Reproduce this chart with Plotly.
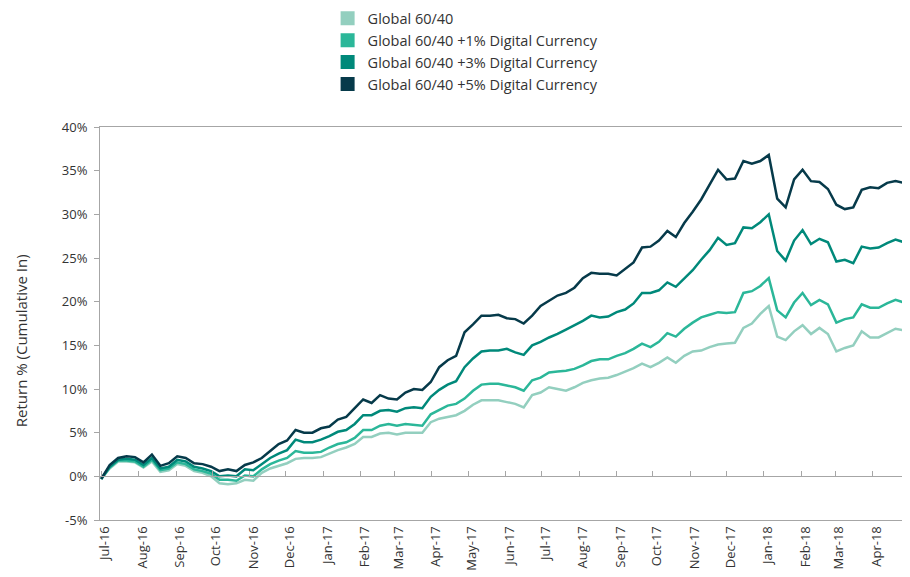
import pandas as pd
import plotly.graph_objects as go

# Weekly observations (Fridays) from Jul-16, plus final Apr-30-2018 point
dates = list(pd.date_range("2016-07-01", periods=96, freq="7D")) + [pd.Timestamp("2018-04-30")]

series_names = [
    "Global 60/40",
    "Global 60/40 +1% Digital Currency",
    "Global 60/40 +3% Digital Currency",
    "Global 60/40 +5% Digital Currency",
]
series_colors = ["#93CFBF", "#2BB799", "#00897A", "#063A4A"]

global_6040 = [
    -0.3, 0.9, 1.7, 1.7, 1.6, 1.0, 1.7, 0.5, 0.7, 1.4, 1.2, 0.6, 0.4, 0.0, -0.8, -0.9,
    -0.8, -0.4, -0.5, 0.4, 0.9, 1.2, 1.5, 2.0, 2.1, 2.1, 2.2, 2.6, 3.0, 3.3, 3.7, 4.5,
    4.5, 4.9, 5.0, 4.8, 5.0, 5.0, 5.0, 6.2, 6.6, 6.8, 7.0, 7.5, 8.2, 8.7, 8.7, 8.7,
    8.5, 8.3, 7.9, 9.3, 9.6, 10.2, 10.0, 9.8, 10.2, 10.7, 11.0, 11.2, 11.3, 11.6, 12.0, 12.4,
    12.9, 12.5, 13.0, 13.6, 13.0, 13.8, 14.3, 14.4, 14.8, 15.1, 15.2, 15.3, 17.0, 17.5, 18.6, 19.5,
    16.0, 15.6, 16.6, 17.3, 16.3, 17.0, 16.3, 14.3, 14.7, 15.0, 16.6, 15.9, 15.9, 16.4, 16.9, 16.7,
    16.8,
]
plus_1pct = [
    -0.3, 1.0, 1.8, 1.8, 1.7, 1.1, 1.9, 0.7, 0.9, 1.6, 1.4, 0.8, 0.6, 0.3, -0.4, -0.4,
    -0.5, 0.1, 0.0, 0.8, 1.4, 1.8, 2.1, 2.9, 2.7, 2.7, 2.8, 3.3, 3.7, 3.9, 4.4, 5.3,
    5.3, 5.8, 6.0, 5.8, 6.0, 5.9, 5.8, 7.1, 7.6, 8.1, 8.3, 8.9, 9.8, 10.5, 10.6, 10.6,
    10.4, 10.2, 9.8, 11.0, 11.3, 11.9, 12.0, 12.1, 12.3, 12.7, 13.2, 13.4, 13.4, 13.8, 14.1, 14.6,
    15.2, 14.8, 15.4, 16.4, 16.0, 16.9, 17.6, 18.2, 18.5, 18.8, 18.7, 18.8, 21.0, 21.2, 21.8, 22.7,
    19.0, 18.2, 19.9, 21.0, 19.6, 20.2, 19.7, 17.6, 18.0, 18.2, 19.7, 19.3, 19.3, 19.8, 20.2, 19.9,
    19.9,
]
plus_3pct = [
    -0.3, 1.1, 1.9, 2.0, 1.9, 1.3, 2.1, 0.9, 1.1, 1.9, 1.7, 1.1, 0.9, 0.6, 0.0, 0.1,
    0.0, 0.8, 0.7, 1.4, 2.1, 2.6, 3.0, 4.2, 3.9, 3.9, 4.2, 4.6, 5.1, 5.3, 6.0, 7.0,
    7.0, 7.5, 7.6, 7.4, 7.8, 7.9, 7.8, 9.1, 9.9, 10.5, 10.9, 12.5, 13.5, 14.3, 14.4, 14.4,
    14.6, 14.2, 13.9, 15.0, 15.4, 15.9, 16.3, 16.8, 17.3, 17.8, 18.4, 18.2, 18.3, 18.8, 19.1, 19.8,
    21.0, 21.0, 21.3, 22.2, 21.7, 22.6, 23.6, 24.8, 25.9, 27.3, 26.5, 26.7, 28.5, 28.4, 29.1, 30.0,
    25.8, 24.7, 27.0, 28.2, 26.6, 27.2, 26.8, 24.6, 24.8, 24.4, 26.3, 26.1, 26.2, 26.7, 27.1, 26.8,
    26.7,
]
plus_5pct = [
    -0.3, 1.3, 2.1, 2.3, 2.2, 1.6, 2.5, 1.2, 1.5, 2.3, 2.1, 1.5, 1.4, 1.1, 0.6, 0.8,
    0.6, 1.3, 1.6, 2.1, 2.9, 3.7, 4.1, 5.3, 5.0, 5.0, 5.5, 5.7, 6.5, 6.8, 7.8, 8.8,
    8.4, 9.3, 8.9, 8.8, 9.6, 10.0, 9.9, 10.8, 12.5, 13.3, 13.8, 16.5, 17.4, 18.4, 18.4, 18.5,
    18.1, 18.0, 17.5, 18.4, 19.5, 20.1, 20.7, 21.0, 21.6, 22.7, 23.3, 23.2, 23.2, 23.0, 23.8, 24.5,
    26.2, 26.3, 27.0, 28.1, 27.4, 29.0, 30.3, 31.7, 33.4, 35.1, 34.0, 34.1, 36.1, 35.8, 36.1, 36.8,
    31.8, 30.8, 34.0, 35.1, 33.8, 33.7, 32.9, 31.1, 30.6, 30.8, 32.8, 33.1, 33.0, 33.6, 33.8, 33.6,
    33.4,
]
series_values = [global_6040, plus_1pct, plus_3pct, plus_5pct]

month_ticks = list(pd.date_range("2016-07-01", "2018-05-01", freq="MS"))
month_labels = [d.strftime("%b-%y") for d in month_ticks]
y_ticks = [-5, 0, 5, 10, 15, 20, 25, 30, 35, 40]
y_labels = [f"{v}%" for v in y_ticks]
y_title = "Return % (Cumulative In)"

FONT = "Open Sans"
TXT = "#333333"
AXC = "#A6A6A6"

fig = go.Figure()
for name, vals, col in zip(series_names, series_values, series_colors):
    fig.add_trace(go.Scatter(x=dates, y=vals, mode="lines", name=name,
                             line=dict(color=col, width=2.5), showlegend=False))
for name, col in zip(series_names, series_colors):
    fig.add_trace(go.Scatter(x=[None], y=[None], mode="markers", name=name,
                             marker=dict(symbol="square", size=14, color=col)))

# page body has an 8px margin; the figure is sized so the plot lands where the reference has it
x_range = ["2016-06-30", "2018-05-02"]
fig.update_layout(
    width=902, height=569,
    margin=dict(l=92, r=0, t=119, b=57, autoexpand=False),
    paper_bgcolor="white", plot_bgcolor="white",
    font=dict(family=FONT, size=13, color=TXT),
    showlegend=True,
    legend=dict(x=0.281, y=1.317, xanchor="left", yanchor="top",
                font=dict(family=FONT, size=14.5, color=TXT),
                bgcolor="rgba(0,0,0,0)", itemclick=False),
    xaxis=dict(type="date", range=x_range, tickvals=month_ticks, ticktext=month_labels,
               tickangle=-90, showgrid=False, zeroline=False, showline=True,
               linecolor=AXC, linewidth=1, mirror=True, ticks="",
               tickfont=dict(family=FONT, size=13, color=TXT), ticklabelshift=4,
               automargin=False),
    xaxis2=dict(type="date", range=x_range, tickvals=month_ticks, overlaying="x",
                anchor="free", position=1/9, showline=True, linecolor=AXC, linewidth=1,
                ticks="inside", ticklen=5, tickcolor=AXC, showticklabels=False,
                showgrid=False, zeroline=False),
    yaxis=dict(range=[-5, 40], tickvals=y_ticks, ticktext=y_labels, showgrid=False,
               zeroline=False, showline=True, linecolor=AXC, linewidth=1,
               ticks="outside", ticklen=5, tickcolor=AXC, ticklabelstandoff=4,
               tickfont=dict(family=FONT, size=13, color=TXT), automargin=False),
    annotations=[dict(text=y_title, xref="paper", yref="paper", x=-0.0975, y=0.455,
                      xanchor="center", yanchor="middle", textangle=-90, showarrow=False,
                      borderpad=0, font=dict(family=FONT, size=15, color=TXT))],
)
# invisible trace to activate xaxis2
fig.add_trace(go.Scatter(x=[dates[0]], y=[None], xaxis="x2", showlegend=False, hoverinfo="skip"))

fig.write_html("out.html")
